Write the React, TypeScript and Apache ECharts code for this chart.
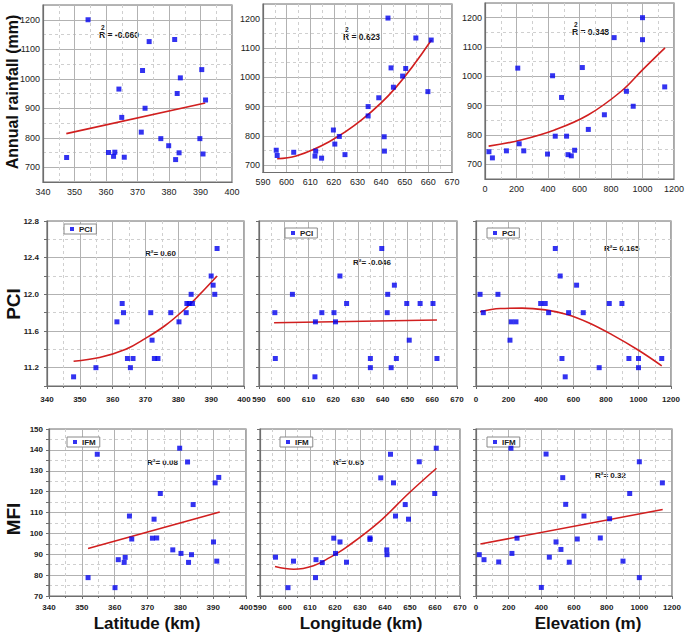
import React, { useEffect, useRef } from "react";
import * as echarts from "echarts";

type Pt = [number, number];

// ---- Data ----
const latRain: Pt[] = [
  [354.3, 1200], [373.7, 1126], [381.8, 1133], [371.6, 1028], [390.4, 1031], [383.6, 1003],
  [364.1, 965], [382.6, 950], [391.6, 928], [372.4, 900], [365.0, 869], [371.2, 819],
  [377.4, 797], [389.8, 797], [379.9, 773], [360.8, 750], [362.8, 751], [362.4, 737],
  [365.8, 734], [383.2, 749], [390.8, 745], [382.1, 726], [347.5, 733],
];
const latRainTrend: Pt[] = [[347.4, 814], [391.5, 918]];

const lonRain: Pt[] = [
  [642.9, 1202], [654.7, 1134], [661.2, 1127], [644.2, 1032], [650.4, 1030], [649.1, 1004],
  [645.2, 966], [659.8, 951], [639.0, 930], [634.5, 900], [634.5, 868], [619.8, 820],
  [622.3, 798], [641.3, 797], [620.4, 772], [595.6, 751], [612.3, 748], [603.0, 744],
  [596.0, 733], [612.0, 731], [614.8, 724], [624.7, 736], [641.4, 748],
];
const lonRainTrend: Pt[] = [[596, 722], [604, 731], [618, 780], [632, 856], [646, 963], [661.3, 1127]];

const elevRain: Pt[] = [
  [1000, 1200], [1000, 1125], [820, 1132], [208, 1028], [618, 1030], [429, 1002],
  [486, 928], [898, 949], [941, 898], [1141, 964], [758, 869], [656, 819],
  [446, 796], [518, 796], [217, 770], [25, 743], [47, 722], [136, 746],
  [246, 746], [397, 735], [527, 733], [548, 729], [569, 748],
];
const elevRainTrend: Pt[] = [[23, 762], [229, 783], [442, 817], [654, 868], [867, 950], [1000, 1022], [1143, 1097]];

const latPci: Pt[] = [
  [391.8, 12.5], [390.0, 12.2], [390.6, 12.1], [391.1, 12.0], [383.9, 12.0], [382.6, 11.9],
  [383.3, 11.9], [384.3, 11.9], [362.9, 11.9], [363.3, 11.8], [361.3, 11.7], [371.6, 11.8],
  [377.7, 11.8], [382.4, 11.8], [380.2, 11.7], [372.0, 11.5], [364.5, 11.3], [366.2, 11.3],
  [372.7, 11.3], [373.8, 11.3], [365.4, 11.2], [354.9, 11.2], [348.1, 11.1],
];
const latPciTrend: Pt[] = [[348.1, 11.27], [356, 11.31], [364, 11.4], [370, 11.52], [376, 11.66], [382, 11.84], [386, 11.98], [391.8, 12.2]];

const lonPci: Pt[] = [
  [639.6, 12.5], [622.7, 12.2], [644.7, 12.1], [642.0, 12.0], [603.5, 12.0], [625.4, 11.9],
  [649.7, 11.9], [655.1, 11.9], [660.3, 11.9], [596.4, 11.8], [615.4, 11.8], [620.3, 11.8],
  [641.8, 11.8], [612.8, 11.7], [620.9, 11.7], [650.7, 11.5], [596.6, 11.3], [635.0, 11.3],
  [645.5, 11.3], [661.9, 11.3], [635.0, 11.2], [643.4, 11.2], [612.6, 11.1],
];
const lonPciTrend: Pt[] = [[596.1, 11.69], [661.9, 11.72]];

const elevPci: Pt[] = [
  [488, 12.5], [518, 12.2], [619, 12.1], [25, 12.0], [135, 12.0], [398, 11.9],
  [426, 11.9], [820, 11.9], [898, 11.9], [45, 11.8], [447, 11.8], [570, 11.8],
  [660, 11.8], [217, 11.7], [246, 11.7], [209, 11.5], [529, 11.3], [941, 11.3],
  [1000, 11.3], [1143, 11.3], [758, 11.2], [1000, 11.2], [549, 11.1],
];
const elevPciTrend: Pt[] = [[25, 11.81], [150, 11.845], [283, 11.85], [426, 11.83], [560, 11.78], [693, 11.69], [836, 11.56], [1000, 11.39], [1143, 11.22]];

const latMfi: Pt[] = [
  [379.8, 140.8], [354.7, 137.9], [382.2, 134.2], [391.7, 126.8], [390.6, 124.2], [373.9, 119.1],
  [383.9, 113.8], [364.5, 108.3], [372.0, 106.8], [371.5, 97.7], [372.8, 97.8], [365.2, 97.3],
  [390.1, 95.9], [377.7, 92.1], [380.2, 90.4], [383.4, 89.8], [363.2, 88.5], [361.1, 87.4],
  [362.9, 86.1], [382.5, 86.1], [391.1, 86.7], [351.9, 78.8], [360.1, 74.0],
];
const latMfiTrend: Pt[] = [[351.9, 92.8], [392, 110.2]];

const lonMfi: Pt[] = [
  [660.5, 140.8], [642.2, 137.9], [653.7, 134.3], [638.3, 126.6], [643.4, 124.2], [659.9, 119.1],
  [648.1, 113.8], [644.2, 108.3], [649.4, 106.8], [619.5, 97.7], [622.0, 95.9], [634.0, 97.8],
  [634.0, 97.1], [640.7, 92.1], [640.8, 89.8], [620.2, 90.4], [596.2, 88.6], [603.4, 86.7],
  [612.4, 87.4], [614.9, 86.0], [624.6, 86.2], [612.2, 78.8], [601.2, 74.0],
];
const lonMfiTrend: Pt[] = [[596, 84.1], [603.5, 82.8], [611.4, 84.5], [618, 88.5], [624.5, 93.3], [637.6, 105.4], [649.4, 119.1], [660.6, 131.2]];

const elevMfi: Pt[] = [
  [214, 140.8], [429, 138.0], [1000, 134.3], [531, 126.7], [1141, 124.2], [941, 119.1],
  [549, 113.9], [661, 108.3], [818, 107.0], [251, 97.7], [761, 97.8], [620, 97.3],
  [490, 95.9], [520, 92.3], [20, 89.8], [220, 90.4], [449, 88.6], [49, 87.4],
  [139, 86.3], [571, 86.2], [900, 86.7], [1000, 78.8], [400, 74.1],
];
const elevMfiTrend: Pt[] = [[27, 94.9], [1143, 111.4]];

const r2Labels = ["-0.060", "0.623", "0.348", "0.60", "-0.046", "0.165", "0.08", "0.65", "0.32"];
const seriesNames = ["Rainfall", "Rainfall", "Rainfall", "PCI", "PCI", "PCI", "IFM", "IFM", "IFM"];
const rowTitles = ["Annual rainfall (mm)", "PCI", "MFI"];
const colTitles = ["Latitude (km)", "Longitude (km)", "Elevation (m)"];

const FONT = "'Liberation Sans', Arial, Helvetica, sans-serif";

interface Panel {
  data: Pt[];
  trend: Pt[];
  row: number;
  col: number;
  left: number;
  top: number;
  width: number;
  height: number;
  x: [number, number, number];
  y: [number, number, number, number];
  r2: [number, number];
}

const X_LAT: [number, number, number] = [340, 400, 10];
const X_LON: [number, number, number] = [590, 670, 10];
const X_ELE: [number, number, number] = [0, 1200, 200];

const panels: Panel[] = [
  { data: latRain, trend: latRainTrend, row: 0, col: 0, left: 43, top: 5, width: 189, height: 177, x: X_LAT, y: [650, 1250, 100, 0], r2: [99, 35] },
  { data: lonRain, trend: lonRainTrend, row: 0, col: 1, left: 263, top: 4, width: 189, height: 168.5, x: X_LON, y: [675, 1250, 100, 0], r2: [343, 37] },
  { data: elevRain, trend: elevRainTrend, row: 0, col: 2, left: 485, top: 3, width: 189, height: 176, x: X_ELE, y: [650, 1250, 100, 0], r2: [572, 32] },
  { data: latPci, trend: latPciTrend, row: 1, col: 0, left: 47, top: 221, width: 197, height: 165, x: X_LAT, y: [11.0, 12.8, 0.4, 1], r2: [145, 253] },
  { data: lonPci, trend: lonPciTrend, row: 1, col: 1, left: 259, top: 221, width: 198, height: 165, x: X_LON, y: [11.0, 12.8, 0.4, 1], r2: [353, 262] },
  { data: elevPci, trend: elevPciTrend, row: 1, col: 2, left: 476, top: 221, width: 195, height: 165, x: X_ELE, y: [11.0, 12.8, 0.4, 1], r2: [604, 248] },
  { data: latMfi, trend: latMfiTrend, row: 2, col: 0, left: 49, top: 429, width: 197, height: 167, x: X_LAT, y: [70, 150, 10, 0], r2: [147, 462] },
  { data: lonMfi, trend: lonMfiTrend, row: 2, col: 1, left: 260, top: 429, width: 200, height: 167, x: X_LON, y: [70, 150, 10, 0], r2: [333, 462] },
  { data: elevMfi, trend: elevMfiTrend, row: 2, col: 2, left: 476, top: 429, width: 196, height: 167, x: X_ELE, y: [70, 150, 10, 0], r2: [595, 475] },
];

const legendPos: Record<number, [number, number]> = {
  3: [64, 224], 4: [285, 228], 5: [487, 228],
  6: [67, 437], 7: [280, 437], 8: [487, 437],
};

function isMult(v: number, step: number) {
  const r = v / step;
  return Math.abs(r - Math.round(r)) < 1e-6;
}

const AXIS_COLOR = "#6e6e6e";
const MAJOR = { color: "#b2b2b2", width: 1 };
const MINOR = { color: "#cfcfcf", width: 1, type: [3, 3] as number[] };

function buildOption() {
  const grid: any[] = [];
  const xAxis: any[] = [];
  const yAxis: any[] = [];
  const series: any[] = [];
  const legend: any[] = [];
  const graphic: any[] = [];

  panels.forEach((p, i) => {
    const top = p.row === 0;
    const labelStyle = {
      fontFamily: FONT,
      fontSize: top ? 9 : 8,
      fontWeight: top ? "normal" : "bold",
      color: "#222",
    };
    grid.push({
      left: p.left, top: p.top, width: p.width, height: p.height,
      show: true, borderColor: AXIS_COLOR, borderWidth: 1.2, backgroundColor: "#fff",
      containLabel: false, outerBoundsMode: "none",
    });
    const [xmin, xmax, xstep] = p.x;
    xAxis.push({
      type: "value", gridIndex: i, min: xmin, max: xmax,
      minInterval: xstep, maxInterval: xstep, splitNumber: Math.round((xmax - xmin) / xstep),
      axisLine: { show: true, onZero: false, lineStyle: { color: AXIS_COLOR, width: 1.2 } },
      axisTick: { show: !top, length: 3, lineStyle: { color: AXIS_COLOR } },
      minorTick: { show: !top, splitNumber: 2, length: 2, lineStyle: { color: AXIS_COLOR } },
      axisLabel: {
        ...labelStyle, margin: top ? 5 : p.row === 1 ? 9 : 7, hideOverlap: false,
        formatter: (v: number) => (isMult(v, xstep) ? String(Math.round(v)) : ""),
      },
      splitLine: { show: true, lineStyle: MAJOR },
      minorSplitLine: { show: true, lineStyle: MINOR },
    });
    const [ymin, ymax, ystep, ydig] = p.y;
    const showY = top || p.col === 0;
    yAxis.push({
      type: "value", gridIndex: i, min: ymin, max: ymax,
      minInterval: ystep, maxInterval: ystep, splitNumber: Math.round((ymax - ymin) / ystep),
      axisLine: { show: true, onZero: false, lineStyle: { color: AXIS_COLOR, width: 1.2 } },
      axisTick: { show: !top, length: 3, lineStyle: { color: AXIS_COLOR } },
      minorTick: { show: !top, splitNumber: 2, length: 3, lineStyle: { color: AXIS_COLOR } },
      axisLabel: {
        ...labelStyle, show: showY, margin: top ? 3 : p.row === 1 ? 8 : 6, hideOverlap: false,
        formatter: (v: number) => (isMult(v, ystep) ? v.toFixed(ydig) : ""),
      },
      splitLine: { show: true, lineStyle: MAJOR },
      minorSplitLine: { show: true, lineStyle: MINOR },
    });
    series.push({
      type: "line", name: "trend" + i, xAxisIndex: i, yAxisIndex: i,
      data: p.trend, smooth: p.trend.length > 2 ? 0.4 : false, showSymbol: false, symbol: "none",
      lineStyle: { color: "#d11f1f", width: 1.6 }, z: 3, silent: true,
    });
    series.push({
      type: "scatter", name: seriesNames[i], xAxisIndex: i, yAxisIndex: i,
      data: p.data, symbol: "rect", symbolSize: 5,
      itemStyle: { color: "#0000ee" }, z: 4,
    });

    const lp = legendPos[i];
    if (lp) {
      legend.push({
        data: [seriesNames[i]], left: lp[0], top: lp[1], orient: "horizontal",
        icon: "rect", itemWidth: 4, itemHeight: 4, selectedMode: false,
        borderColor: "#8a8a8a", borderWidth: 1, backgroundColor: "#fff",
        padding: [1, 4, 1, 6],
        textStyle: { fontFamily: FONT, fontSize: 8, fontWeight: "bold", color: "#222" },
      });
    }

    const r2Style = { fontFamily: FONT, fontSize: 8.5, fontWeight: "bold", fill: "#1a1a1a" };
    if (top) {
      graphic.push({
        type: "text", x: p.r2[0] + 2, y: p.r2[1] - 8,
        style: { ...r2Style, fontSize: 6.5, text: "2", align: "left", verticalAlign: "middle" },
      });
      graphic.push({
        type: "text", x: p.r2[0], y: p.r2[1],
        style: { ...r2Style, text: "R = " + r2Labels[i], align: "left", verticalAlign: "middle" },
      });
    } else {
      graphic.push({
        type: "text", x: p.r2[0], y: p.r2[1],
        style: { ...r2Style, fontSize: 8, text: "R²= " + r2Labels[i], align: "left", verticalAlign: "middle" },
      });
    }
  });

  const rowCenters: [number, number, number][] = [[12.5, 92, 16], [13.5, 304, 19], [13.5, 519, 19]];
  rowTitles.forEach((t, r) => {
    graphic.push({
      type: "text", x: rowCenters[r][0], y: rowCenters[r][1], rotation: Math.PI / 2,
      style: { text: t, fontFamily: FONT, fontSize: rowCenters[r][2], fontWeight: "bold", fill: "#111", align: "center", verticalAlign: "middle" },
    });
  });
  const colCenters = [147, 361, 588];
  colTitles.forEach((t, c) => {
    graphic.push({
      type: "text", x: colCenters[c], y: 623,
      style: { text: t, fontFamily: FONT, fontSize: 17, fontWeight: "bold", fill: "#111", align: "center", verticalAlign: "middle" },
    });
  });

  return {
    animation: false,
    backgroundColor: "#fff",
    textStyle: { fontFamily: FONT },
    grid, xAxis, yAxis, series, legend, graphic,
  };
}

export default function App() {
  const ref = useRef<HTMLDivElement>(null);
  useEffect(() => {
    document.body.style.margin = "0";
    if (!ref.current) return;
    const chart = echarts.init(ref.current, undefined, { renderer: "svg" });
    chart.setOption(buildOption() as any);
    return () => chart.dispose();
  }, []);
  return <div ref={ref} style={{ width: 685, height: 633 }} />;
}
